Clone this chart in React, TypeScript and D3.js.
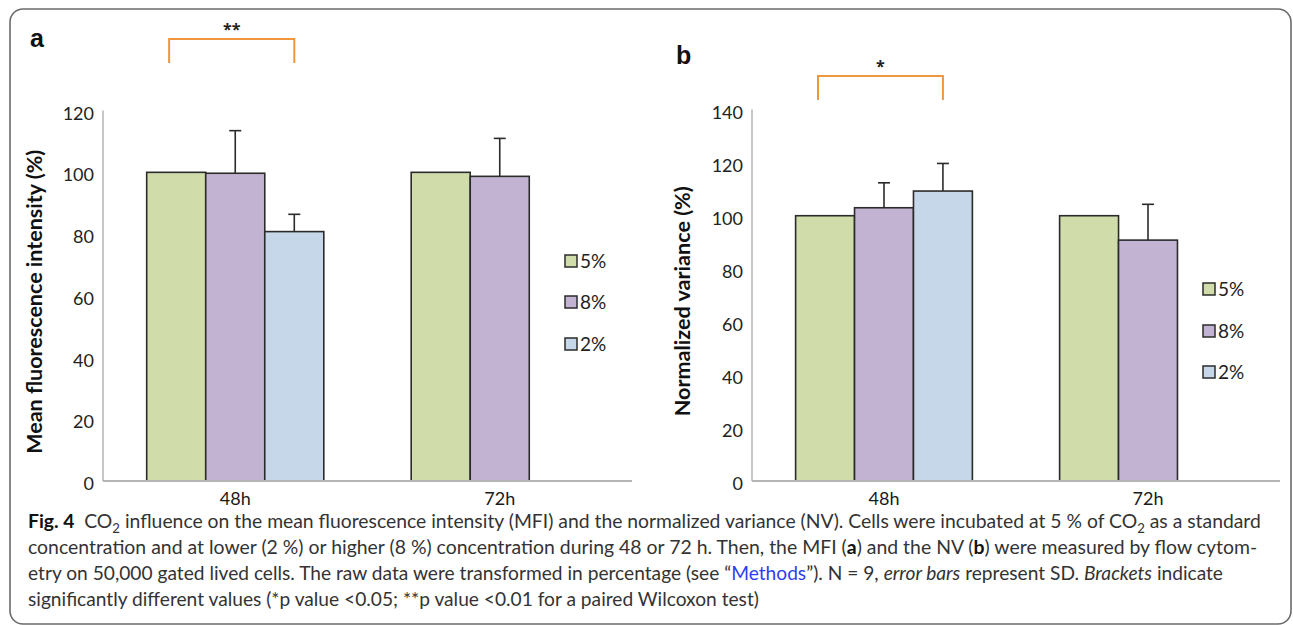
import React, { useLayoutEffect, useRef, useState } from 'react';
import * as d3 from 'd3';

// categories and series
const categories = ['48h', '72h'];
const seriesNames = ['5%', '8%', '2%'];
const seriesColors = ['#d0ddab', '#c3b3d2', '#c6d7ea'];

// panel a: mean fluorescence intensity (%)
const mfi5 = [100, 100];
const mfi8 = [99.7, 98.7];
const mfi2: (number | null)[] = [80.8, null];
const mfi8Sd = [13.8, 12.3];
const mfi2Sd: (number | null)[] = [5.6, null];

// panel b: normalized variance (%)
const nv5 = [100, 100];
const nv8 = [103.0, 90.8];
const nv2: (number | null)[] = [109.3, null];
const nv8Sd = [9.4, 13.5];
const nv2Sd: (number | null)[] = [10.4, null];

const ticksA = [0, 20, 40, 60, 80, 100, 120];
const ticksB = [0, 20, 40, 60, 80, 100, 120, 140];

const TICK_FONT = "Lato, 'Open Sans', sans-serif";
const BAR_STROKE = '#2b2b2b';
const AXIS_GRAY = '#b4b4b4';
const ORANGE = '#f0963c';

type PanelProps = {
  letter: string;
  letterX: number;
  letterY: number;
  title: string;
  titleX: number;
  titleLength: number;
  left: number;
  right: number;
  baseY: number;
  topY: number;
  yMax: number;
  ticks: number[];
  values: (number | null)[][]; // per series
  sds: (number | null)[][]; // per series
  legendX: number;
  legendYs: number[];
  bracketTop: number;
  bracketBottom: number;
  stars: string;
};

const Panel: React.FC<PanelProps> = (p) => {
  const x = d3.scaleBand<string>().domain(categories).range([p.left, p.right]).padding(0);
  const xs = d3.scaleBand<string>().domain(seriesNames).range([0, x.bandwidth()])
    .paddingInner(0).paddingOuter(0.74);
  const y = d3.scaleLinear().domain([0, p.yMax]).range([p.baseY, p.topY]);
  const bw = xs.bandwidth();

  // bracket spans from the 5% bar to the centre of the 2% bar in the first group
  const bLeft = (x('48h') ?? 0) + (xs('5%') ?? 0) + bw * 0.38;
  const bRight = (x('48h') ?? 0) + (xs('2%') ?? 0) + bw * 0.5;

  return (
    <g>
      <text x={p.letterX} y={p.letterY} fontFamily="'Liberation Sans', Arial, sans-serif"
        fontWeight="bold" fontSize={25} fill="#111">{p.letter}</text>

      {/* significance bracket */}
      <path d={`M${bLeft},${p.bracketBottom}V${p.bracketTop}H${bRight}V${p.bracketBottom}`}
        fill="none" stroke={ORANGE} strokeWidth={2} />
      <text x={(bLeft + bRight) / 2} y={p.bracketTop - 4} textAnchor="middle"
        fontFamily="'Open Sans', sans-serif" fontWeight="bold" fontSize={16} fill="#222">{p.stars}</text>

      {/* y axis */}
      <line x1={p.left} x2={p.left} y1={p.baseY} y2={p.topY} stroke={AXIS_GRAY} strokeWidth={1.5} />
      {p.ticks.map(t => (
        <text key={t} x={p.left - 9} y={y(t)} dy="0.5em" textAnchor="end"
          fontFamily={TICK_FONT} fontSize={18} fill="#222">{t}</text>
      ))}
      <text transform={`translate(${p.titleX},${(p.baseY + p.topY) / 2 + 6}) rotate(-90)`}
        textAnchor="middle" dy="0.35em" fontFamily={TICK_FONT} fontWeight="bold" fontSize={20}
        fill="#111" textLength={p.titleLength} lengthAdjust="spacingAndGlyphs">{p.title}</text>

      {/* bars */}
      {categories.map((c, ci) => (
        <g key={c}>
          {seriesNames.map((s, si) => {
            const v = p.values[si][ci];
            if (v == null) return null;
            const bx = (x(c) ?? 0) + (xs(s) ?? 0);
            const sd = p.sds[si][ci];
            return (
              <g key={s}>
                <rect x={bx} y={y(v)} width={bw} height={p.baseY - y(v)}
                  fill={seriesColors[si]} stroke={BAR_STROKE} strokeWidth={1.6} />
                {sd != null && sd > 0 && (
                  <g stroke="#2b2b2b" strokeWidth={1.6}>
                    <line x1={bx + bw / 2} x2={bx + bw / 2} y1={y(v)} y2={y(v + sd)} />
                    <line x1={bx + bw / 2 - 6} x2={bx + bw / 2 + 6} y1={y(v + sd)} y2={y(v + sd)} />
                  </g>
                )}
              </g>
            );
          })}
          <text x={(x(c) ?? 0) + x.bandwidth() / 2} y={p.baseY + 24} textAnchor="middle"
            fontFamily={TICK_FONT} fontSize={18} fill="#1a1a1a">{c}</text>
        </g>
      ))}

      {/* x axis */}
      <line x1={p.left} x2={p.right} y1={p.baseY} y2={p.baseY} stroke={AXIS_GRAY} strokeWidth={2} />

      {/* legend */}
      {seriesNames.map((s, si) => (
        <g key={s}>
          <rect x={p.legendX} y={p.legendYs[si] - 6} width={12} height={12}
            fill={seriesColors[si]} stroke={BAR_STROKE} strokeWidth={1.5} />
          <text x={p.legendX + 15} y={p.legendYs[si]} dy="0.36em" fontFamily={TICK_FONT}
            fontSize={19} fill="#222">{s}</text>
        </g>
      ))}
    </g>
  );
};

const CAP_FONT = "Lato, 'Open Sans', sans-serif";
const captionBaselines = [528, 554, 580, 606];
const captionWidths = [1234, 1230, 1195, 731];

// each caption line is squeezed horizontally to the width it has in the figure
const Caption: React.FC = () => {
  const refs = useRef<(SVGTextElement | null)[]>([]);
  const [scales, setScales] = useState<number[]>([1, 1, 1, 1]);

  useLayoutEffect(() => {
    const s = refs.current.map((el, i) => {
      if (!el) return 1;
      const w = el.getBBox().width;
      return w > 0 ? captionWidths[i] / w : 1;
    });
    setScales(s);
  }, []);

  const line = (i: number, children: React.ReactNode) => (
    <g transform={`translate(28,${captionBaselines[i]}) scale(${scales[i]},1)`}>
      <text ref={el => { refs.current[i] = el; }} x={0} y={0}
        fontFamily={CAP_FONT} fontSize={19} fill="#333">{children}</text>
    </g>
  );

  return (
    <g>
      {line(0, <>
        <tspan fontWeight="bold" fill="#111">Fig. 4</tspan>
        <tspan>{'\u2002CO'}</tspan>
        <tspan fontSize={13} dy={5}>2</tspan>
        <tspan dy={-5}> influence on the mean fluorescence intensity (MFI) and the normalized variance (NV). Cells were incubated at 5 % of CO</tspan>
        <tspan fontSize={13} dy={5}>2</tspan>
        <tspan dy={-5}> as a standard</tspan>
      </>)}
      {line(1, <>
        <tspan>concentration and at lower (2 %) or higher (8 %) concentration during 48 or 72 h. Then, the MFI (</tspan>
        <tspan fontWeight="bold" fill="#111">a</tspan>
        <tspan>) and the NV (</tspan>
        <tspan fontWeight="bold" fill="#111">b</tspan>
        <tspan>) were measured by flow cytom-</tspan>
      </>)}
      {line(2, <>
        <tspan>{'etry on 50,000 gated lived cells. The raw data were transformed in percentage (see \u201C'}</tspan>
        <tspan fill="#2f3df0">Methods</tspan>
        <tspan>{'\u201D). N = 9, '}</tspan>
        <tspan fontStyle="italic">error bars</tspan>
        <tspan> represent SD. </tspan>
        <tspan fontStyle="italic">Brackets</tspan>
        <tspan> indicate</tspan>
      </>)}
      {line(3, <>
        significantly different values (*p value &lt;0.05; **p value &lt;0.01 for a paired Wilcoxon test)
      </>)}
    </g>
  );
};

export default function App() {
  const W = 1293;
  const H = 625;
  return (
    <svg width={W} height={H} viewBox={`0 0 ${W} ${H}`}
      style={{ position: 'absolute', left: 0, top: 0, background: '#fff' }}>
      <rect x={0} y={0} width={W} height={H} fill="#fff" />
      <rect x={10} y={9} width={1281} height={615} rx={13} ry={13}
        fill="none" stroke="#6b6b6b" strokeWidth={1.6} />

      <Panel letter="a" letterX={30} letterY={47}
        title="Mean fluorescence intensity (%)" titleX={35} titleLength={304}
        left={103} right={632} baseY={481} topY={110.6} yMax={120} ticks={ticksA}
        values={[mfi5, mfi8, mfi2]} sds={[[0, 0], mfi8Sd, mfi2Sd]}
        legendX={565} legendYs={[261, 302, 344]}
        bracketTop={39} bracketBottom={63} stars="**" />

      <Panel letter="b" letterX={676} letterY={64}
        title="Normalized variance (%)" titleX={683} titleLength={230}
        left={752} right={1280} baseY={481} topY={109.6} yMax={140} ticks={ticksB}
        values={[nv5, nv8, nv2]} sds={[[0, 0], nv8Sd, nv2Sd]}
        legendX={1203} legendYs={[289, 331, 372]}
        bracketTop={76} bracketBottom={100} stars="*" />

      <Caption />
    </svg>
  );
}
